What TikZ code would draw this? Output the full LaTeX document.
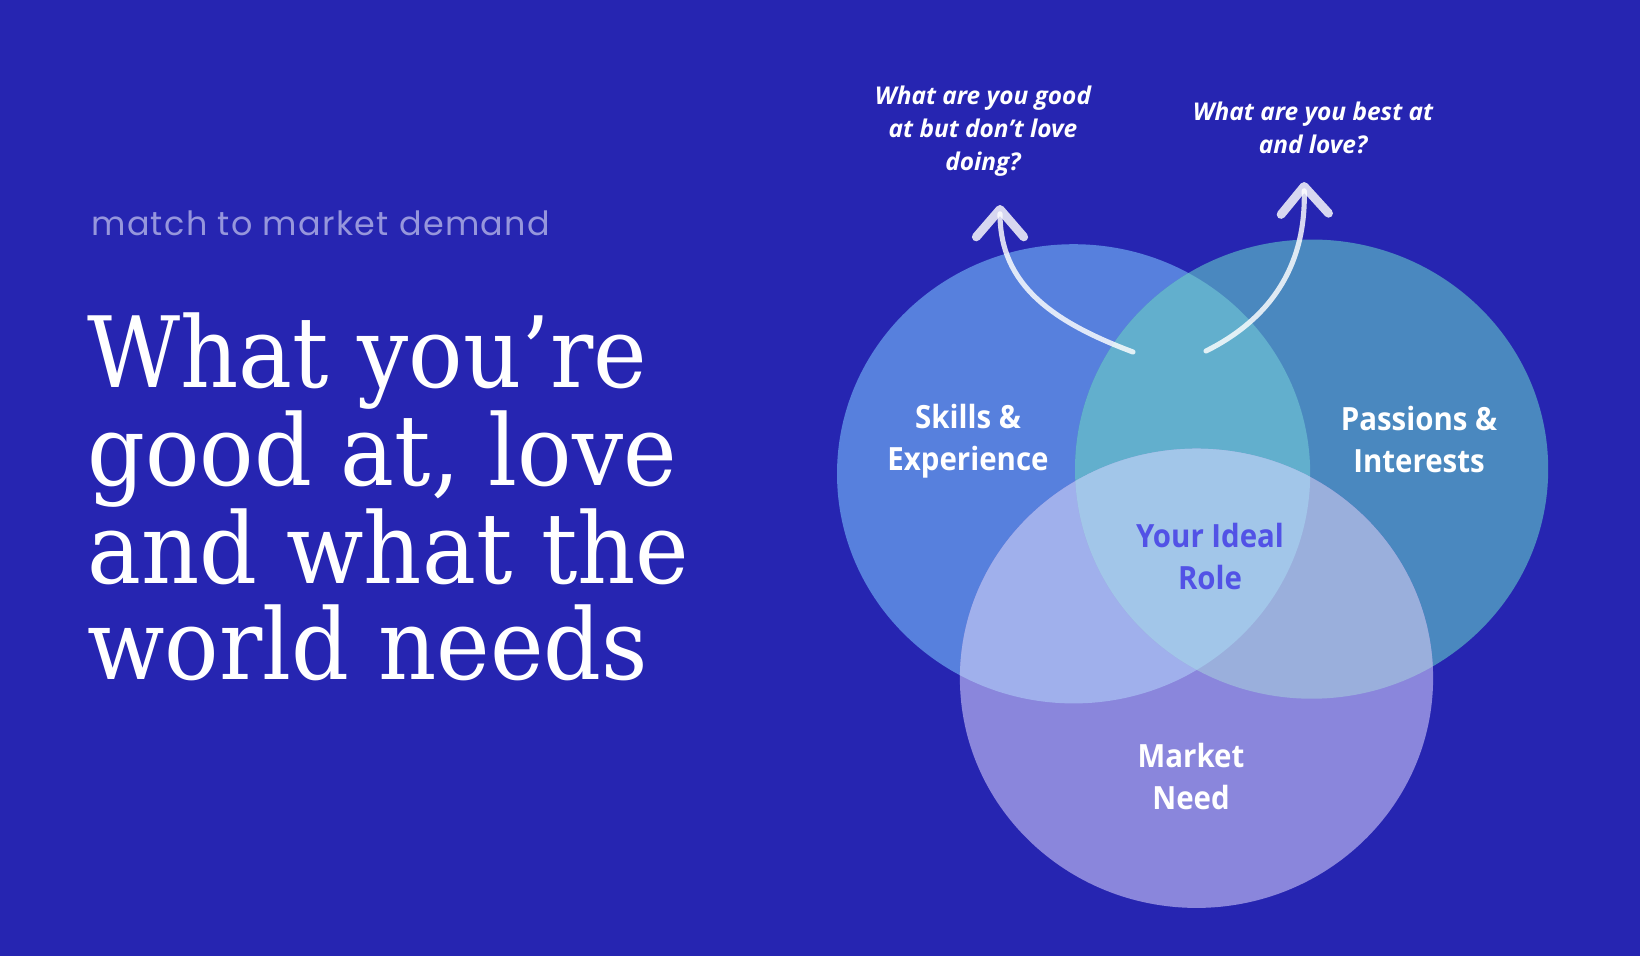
\documentclass[tikz,border=0pt]{standalone}
\usepackage{fontspec}
\usetikzlibrary{arrows.meta}
\setmainfont{Open Sans}
\newfontfamily\titlefont[FakeStretch=0.92]{DejaVu Serif}
\newfontfamily\tagfont[LetterSpace=4]{Poppins}
\newfontfamily\setfont[FakeStretch=0.92]{Open Sans}
\definecolor{bg}{HTML}{2625B1}
\definecolor{skc}{HTML}{5780DD}
\definecolor{psc}{HTML}{4A88BF}
\definecolor{mkc}{HTML}{8A86DC}
\definecolor{lrc}{HTML}{62AFCD}
\definecolor{lbc}{HTML}{A0B0EC}
\definecolor{rbc}{HTML}{9AAFDC}
\definecolor{ctc}{HTML}{A2C6E9}
\definecolor{tagc}{HTML}{9696DC}
\definecolor{rolec}{HTML}{5252E6}

\begin{document}
\begin{tikzpicture}[
  x=0.2mm, y=-0.2mm,
  line cap=round, line join=round,
  vn/.style={x radius=236.6, y radius=229.6},
  ttl/.style={font=\titlefont\fontsize{56}{54.6}\selectfont, text=white,
              align=left, inner sep=0pt},
  tag/.style={font=\tagfont\fontsize{19}{23}\selectfont, text=tagc, inner sep=0pt},
  lbl/.style={font=\setfont\bfseries\fontsize{18.2}{23.9}\selectfont, text=white,
              align=center, inner sep=0pt},
  qst/.style={font=\bfseries\itshape\fontsize{13.9}{18.8}\selectfont, text=white,
              align=center, inner sep=0pt},
  fl/.style={draw=white, draw opacity=0.82, line width=2.9pt,
             -{Straight Barb[round, length=5.5mm, width=9.5mm, line width=5pt]}},
]
\fill[bg] (0,0) rectangle (1640,956);
\useasboundingbox (0,0) rectangle (1640,956);

\coordinate (sk) at (1073.6,473.8);
\coordinate (ps) at (1311.6,469.1);
\coordinate (mk) at (1196.5,678.3);

% three sets, then the overlaps
\fill[skc] (sk) circle[vn];
\fill[psc] (ps) circle[vn];
\fill[mkc] (mk) circle[vn];
\begin{scope}
  \clip (sk) circle[vn];
  \fill[lrc] (ps) circle[vn];
  \fill[lbc] (mk) circle[vn];
\end{scope}
\begin{scope}
  \clip (ps) circle[vn];
  \fill[rbc] (mk) circle[vn];
\end{scope}
\begin{scope}
  \clip (sk) circle[vn];
  \clip (ps) circle[vn];
  \fill[ctc] (mk) circle[vn];
\end{scope}

\node[tag, anchor=base west] (tg) at (91,235) {match to market demand};
\node[ttl, anchor=north west] (ttl) at (87,312)
  {What you’re\\good at, love\\and what the\\world needs};

\node[lbl] (skl) at (968,441) {Skills \&\\Experience};
\node[lbl] (psl) at (1419,439) {Passions \&\\Interests};
\node[lbl, text=rolec] (rol) at (1210,556) {Your Ideal\\Role};
\node[lbl] (mkl) at (1191,776) {Market\\Need};

\node[qst] (q1) at (983,131) {What are you good\\at but don’t love\\doing?};
\node[qst] (q2) at (1313,128) {What are you best at\\and love?};

\coordinate (a1s) at (1133,352);
\coordinate (a1e) at (1000,205);
\coordinate (a2s) at (1206,351);
\coordinate (a2e) at (1304,182);
\draw[fl] (a1s) .. controls (1053,322) and (1000,285) .. (a1e);
\draw[fl] (a2s) .. controls (1276,316) and (1306,260) .. (a2e);
\end{tikzpicture}
\end{document}
